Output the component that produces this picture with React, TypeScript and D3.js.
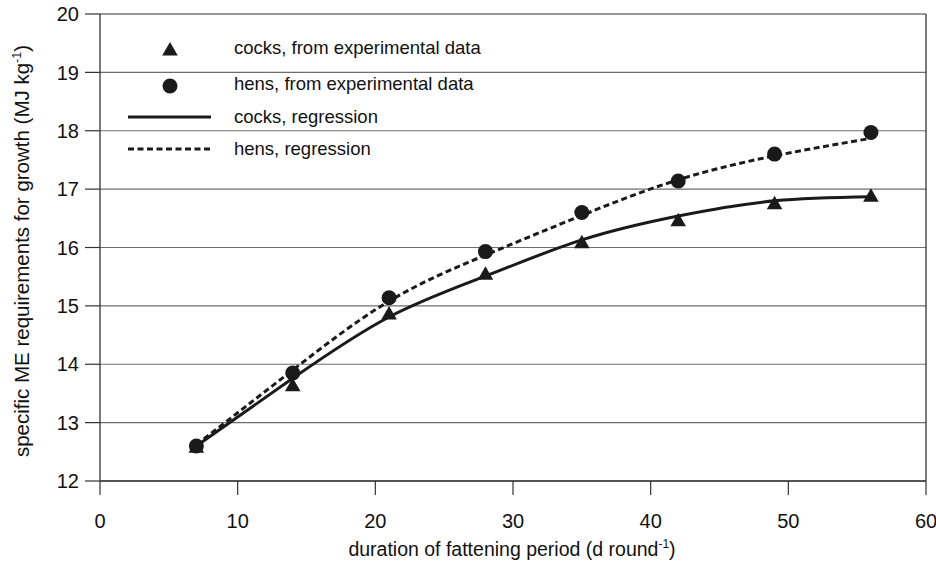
import React from "react";
import * as d3 from "d3";

// duration of fattening period (d round^-1)
const DAYS = [7, 14, 21, 28, 35, 42, 49, 56];
// experimental data (MJ kg^-1)
const COCKS_DATA = [12.58, 13.63, 14.86, 15.54, 16.08, 16.46, 16.75, 16.88];
const HENS_DATA = [12.6, 13.85, 15.14, 15.93, 16.6, 17.14, 17.6, 17.97];
// regression curves at the same days
const COCKS_REG = [12.6, 13.76, 14.81, 15.51, 16.13, 16.54, 16.8, 16.87];
const HENS_REG = [12.62, 13.9, 15.08, 15.87, 16.55, 17.16, 17.57, 17.87];

const X_TICKS = [0, 10, 20, 30, 40, 50, 60];
const Y_TICKS = [12, 13, 14, 15, 16, 17, 18, 19, 20];

const LEGEND = [
  { label: "cocks, from experimental data", kind: "triangle" },
  { label: "hens, from experimental data", kind: "circle" },
  { label: "cocks, regression", kind: "solid" },
  { label: "hens, regression", kind: "dashed" },
];

const W = 936;
const H = 574;
const FONT = "Liberation Sans, Arial, Helvetica, sans-serif";

export default function App() {
  const x = d3.scaleLinear().domain([0, 60]).range([100, 926]);
  const y = d3.scaleLinear().domain([12, 20]).range([481, 14]);

  const line = d3
    .line<[number, number]>()
    .x((d) => x(d[0]))
    .y((d) => y(d[1]))
    .curve(d3.curveNatural);

  const cocksPath = line(DAYS.map((d, i) => [d, COCKS_REG[i]]) as [number, number][]);
  const hensPath = line(DAYS.map((d, i) => [d, HENS_REG[i]]) as [number, number][]);
  const tri = d3.symbol().type(d3.symbolTriangle).size(105)();

  const legendY = [48, 84, 117, 149];

  return (
    <svg width={W} height={H} style={{ position: "absolute", left: 0, top: 0, background: "#fff" }} fontFamily={FONT}>
      <rect x={0} y={0} width={W} height={H} fill="#fff" />
      {/* gridlines */}
      {Y_TICKS.map((t) => (
        <line key={"g" + t} x1={100} x2={926} y1={y(t)} y2={y(t)} stroke={t === 20 ? "#333" : "#6e6e6e"} strokeWidth={1.2} />
      ))}
      {/* frame */}
      <line x1={100} x2={100} y1={y(20)} y2={y(12)} stroke="#333" strokeWidth={1.3} />
      <line x1={926} x2={926} y1={y(20)} y2={y(12)} stroke="#333" strokeWidth={1.3} />
      <line x1={100} x2={926} y1={y(12)} y2={y(12)} stroke="#333" strokeWidth={1.3} />
      {/* y ticks */}
      {Y_TICKS.map((t) => (
        <g key={"y" + t}>
          <line x1={85} x2={100} y1={y(t)} y2={y(t)} stroke="#333" strokeWidth={1.2} />
          <text x={79} y={y(t)} dy="0.36em" textAnchor="end" fontSize={20} fill="#111">
            {t}
          </text>
        </g>
      ))}
      {/* x ticks */}
      {X_TICKS.map((t) => (
        <g key={"x" + t}>
          <line x1={x(t)} x2={x(t)} y1={481} y2={495} stroke="#333" strokeWidth={1.2} />
          <text x={x(t)} y={528} textAnchor="middle" fontSize={20} fill="#111">
            {t}
          </text>
        </g>
      ))}
      {/* axis titles */}
      <text x={512} y={556} textAnchor="middle" fontSize={19.5} fill="#111">
        duration of fattening period (d round
        <tspan fontSize={12} dy={-8}>-1</tspan>
        <tspan dy={8}>)</tspan>
      </text>
      <text transform="translate(29,251) rotate(-90)" textAnchor="middle" fontSize={20.5} fill="#111">
        specific ME requirements for growth (MJ kg
        <tspan fontSize={12.5} dy={-8}>-1</tspan>
        <tspan dy={8}>)</tspan>
      </text>
      {/* regression curves */}
      <path d={cocksPath || ""} fill="none" stroke="#1a1a1a" strokeWidth={3} />
      <path d={hensPath || ""} fill="none" stroke="#1a1a1a" strokeWidth={3} strokeDasharray="6,3.5" />
      {/* data markers */}
      {DAYS.map((d, i) => (
        <path key={"t" + d} d={tri || ""} transform={`translate(${x(d)},${y(COCKS_DATA[i]) + 1})`} fill="#1a1a1a" />
      ))}
      {DAYS.map((d, i) => (
        <circle key={"c" + d} cx={x(d)} cy={y(HENS_DATA[i])} r={7.5} fill="#1a1a1a" />
      ))}
      {/* legend */}
      {LEGEND.map((l, i) => (
        <g key={l.label}>
          {l.kind === "triangle" && <path d={tri || ""} transform={`translate(170,${legendY[i] + 3})`} fill="#1a1a1a" />}
          {l.kind === "circle" && <circle cx={170} cy={legendY[i] + 2} r={7.5} fill="#1a1a1a" />}
          {l.kind === "solid" && <line x1={128} x2={211} y1={legendY[i]} y2={legendY[i]} stroke="#1a1a1a" strokeWidth={3} />}
          {l.kind === "dashed" && (
            <line x1={128} x2={211} y1={legendY[i]} y2={legendY[i]} stroke="#1a1a1a" strokeWidth={3} strokeDasharray="6,3.5" />
          )}
          <text x={234} y={legendY[i]} dy="0.33em" fontSize={18.5} fill="#111">
            {l.label}
          </text>
        </g>
      ))}
    </svg>
  );
}
